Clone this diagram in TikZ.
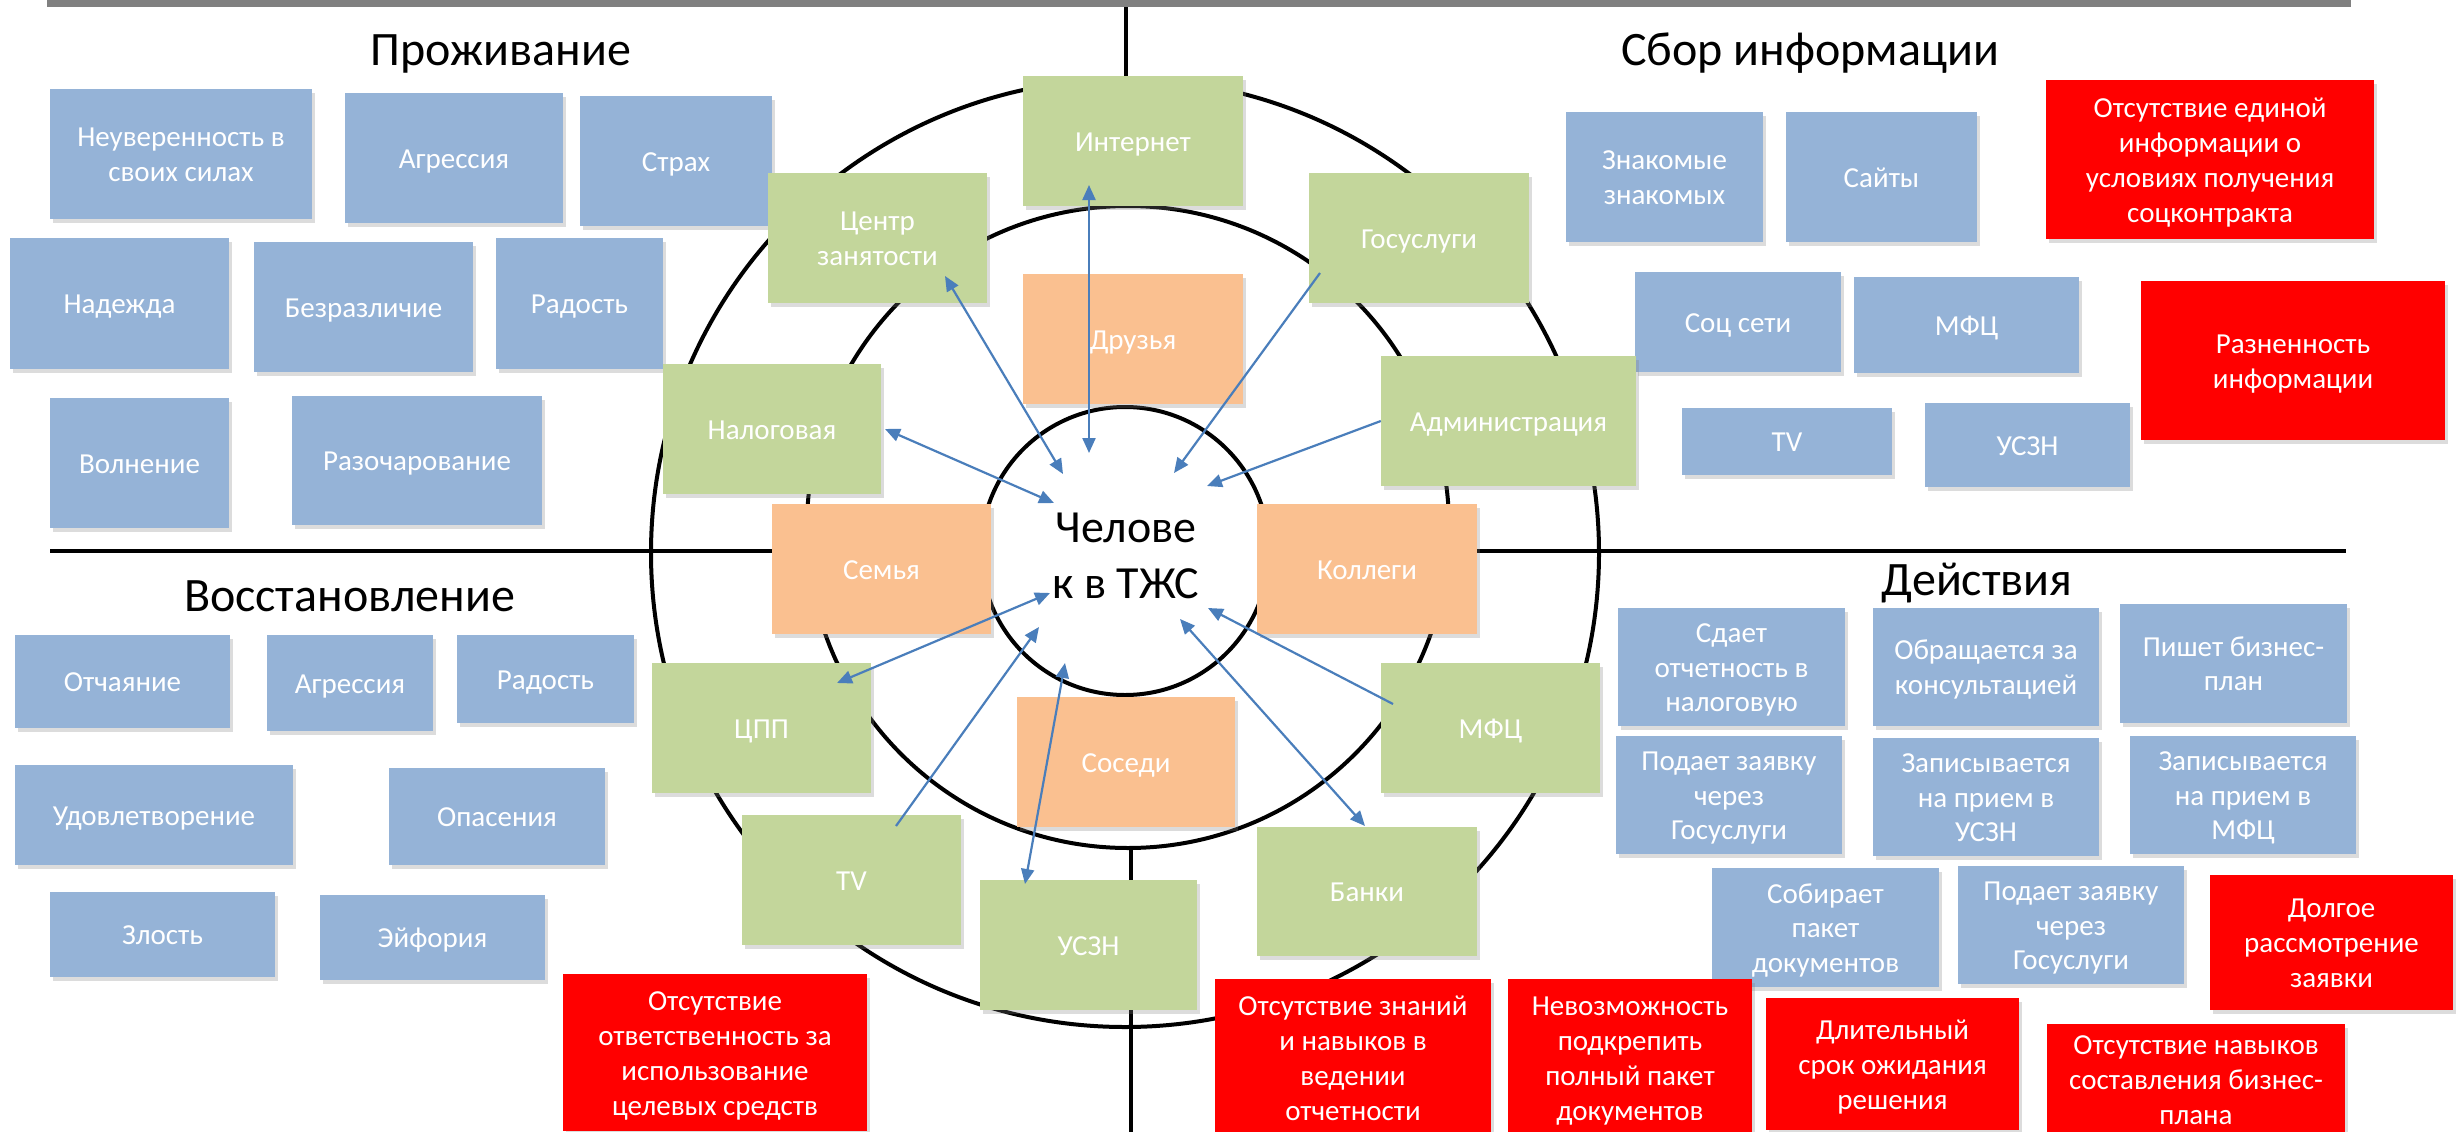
\documentclass[tikz,border=0pt]{standalone}
\usepackage{fontspec}
\setmainfont{Carlito}
\usetikzlibrary{arrows.meta,shadows}
\definecolor{bluebox}{HTML}{95B3D7}
\definecolor{greenbox}{HTML}{C3D69B}
\definecolor{orangebox}{HTML}{FAC090}
\definecolor{redbox}{HTML}{FF0000}
\definecolor{arrowblue}{HTML}{4A7EBB}
\definecolor{bargray}{HTML}{808080}
\newcommand{\Tu}{\rule{0pt}{27.5pt}}
\newcommand{\Bd}{\rule[-7.5pt]{0pt}{7.5pt}}
\begin{document}
\begin{tikzpicture}[x=1pt,y=-1pt,
  box/.style={rectangle, inner sep=2pt, text=white, align=center,
    font=\fontsize{29}{34.5}\selectfont,
    drop shadow={shadow xshift=3pt,shadow yshift=-4pt,opacity=0.28}},
  bbox/.style={box, fill=bluebox},
  gbox/.style={box, fill=greenbox},
  obox/.style={box, fill=orangebox},
  rbox/.style={box, fill=redbox, font=\fontsize{29}{35}\selectfont},
  heading/.style={font=\fontsize{48}{56}\selectfont, anchor=base, inner sep=0pt},
  axisline/.style={line width=4.2pt},
  ring/.style={line width=4pt},
  tip/.tip={Triangle[length=15pt,width=13pt]},
  link/.style={draw=arrowblue, line width=2.2pt, -tip},
  bothlink/.style={draw=arrowblue, line width=2.2pt, tip-tip},
]
\useasboundingbox (0,0) rectangle (2458,1132);
\clip (0,0) rectangle (2458,1132);

% top bar and axes
\fill[bargray] (47,0) rectangle (2351,7.5);
\draw[axisline] (50,551) -- (2346,551);
\draw[axisline] (1126,7.5) -- (1126,300);
\draw[axisline] (1131,800) -- (1131,1132);

% rings
\draw[ring] (1125,553) circle[radius=474pt];
\draw[ring, fill=white] (1128,527) circle[radius=321pt];
\draw[ring, fill=white] (1125,551) circle[radius=144pt];

% headings
\node[heading] (h1) at (501,66) {Проживание};
\node[heading] (h2) at (1810,66) {Сбор информации};
\node[heading] (h3) at (349.5,611) {Восстановление};
\node[heading] (h4) at (1977,595) {Действия};

% Проживание
\node[bbox, minimum width=262pt, minimum height=130pt] (p1) at (181,154) {\Tu Неуверенность в\\своих силах\Bd};
\node[bbox, minimum width=218pt, minimum height=130pt] (p2) at (454,158) {\Tu Агрессия\Bd};
\node[bbox, minimum width=192pt, minimum height=130pt] (p3) at (676,161) {\Tu Страх\Bd};
\node[bbox, minimum width=219pt, minimum height=131pt] (p4) at (119.5,303.5) {\Tu Надежда\Bd};
\node[bbox, minimum width=219pt, minimum height=130pt] (p5) at (363.5,307) {\Tu Безразличие\Bd};
\node[bbox, minimum width=167pt, minimum height=131pt] (p6) at (579.5,303.5) {\Tu Радость\Bd};
\node[bbox, minimum width=179pt, minimum height=130pt] (p7) at (139.5,463) {\Tu Волнение\Bd};
\node[bbox, minimum width=250pt, minimum height=129pt] (p8) at (417,460.5) {\Tu Разочарование\Bd};

% Восстановление
\node[bbox, minimum width=215pt, minimum height=93pt] (v1) at (122.5,681.5) {\Tu Отчаяние\Bd};
\node[bbox, minimum width=166pt, minimum height=96pt] (v2) at (350,683) {\Tu Агрессия\Bd};
\node[bbox, minimum width=177pt, minimum height=88pt] (v3) at (545.5,679) {\Tu Радость\Bd};
\node[bbox, minimum width=278pt, minimum height=100pt] (v4) at (154,815) {\Tu Удовлетворение\Bd};
\node[bbox, minimum width=216pt, minimum height=97pt] (v5) at (497,816.5) {\Tu Опасения\Bd};
\node[bbox, minimum width=225pt, minimum height=85pt] (v6) at (162.5,934.5) {\Tu Злость\Bd};
\node[bbox, minimum width=225pt, minimum height=85pt] (v7) at (432.5,937.5) {\Tu Эйфория\Bd};

% Сбор информации
\node[bbox, minimum width=197pt, minimum height=130pt] (s1) at (1664.5,177) {\Tu Знакомые\\знакомых\Bd};
\node[bbox, minimum width=191pt, minimum height=130pt] (s2) at (1881.5,177) {\Tu Сайты\Bd};
\node[bbox, minimum width=206pt, minimum height=100pt] (s3) at (1738,322) {\Tu Соц сети\Bd};
\node[bbox, minimum width=225pt, minimum height=96pt] (s4) at (1966.5,325) {\Tu МФЦ\Bd};
\node[bbox, minimum width=210pt, minimum height=67pt] (s5) at (1787,441.5) {\Tu TV\Bd};
\node[bbox, minimum width=205pt, minimum height=84pt] (s6) at (2027.5,445) {\Tu УСЗН\Bd};
\node[rbox, minimum width=328pt, minimum height=159pt] (r1) at (2210,159.5) {\Tu Отсутствие единой\\информации о\\условиях получения\\соцконтракта\Bd};
\node[rbox, minimum width=304pt, minimum height=159pt] (r2) at (2293,360.5) {\Tu Разненность\\информации\Bd};

% Действия
\node[bbox, minimum width=227pt, minimum height=118pt] (d1) at (1731.5,667) {\Tu Сдает\\отчетность в\\налоговую\Bd};
\node[bbox, minimum width=226pt, minimum height=118pt] (d2) at (1986,667) {\Tu Обращается за\\консультацией\Bd};
\node[bbox, minimum width=227pt, minimum height=119pt] (d3) at (2233.5,663.5) {\Tu Пишет бизнес-\\план\Bd};
\node[bbox, minimum width=226pt, minimum height=118pt] (d4) at (1729,795) {\Tu Подает заявку\\через\\Госуслуги\Bd};
\node[bbox, minimum width=226pt, minimum height=118pt] (d5) at (1986,797) {\Tu Записывается\\на прием в\\УСЗН\Bd};
\node[bbox, minimum width=226pt, minimum height=118pt] (d6) at (2243,795) {\Tu Записывается\\на прием в\\МФЦ\Bd};
\node[bbox, minimum width=227pt, minimum height=119pt] (d7) at (1825.5,927.5) {\Tu Собирает\\пакет\\документов\Bd};
\node[bbox, minimum width=226pt, minimum height=118pt] (d8) at (2071,925) {\Tu Подает заявку\\через\\Госуслуги\Bd};
\node[rbox, minimum width=243pt, minimum height=135pt] (r3) at (2331.5,942.5) {\Tu Долгое\\рассмотрение\\заявки\Bd};

% bottom red boxes
\node[rbox, minimum width=304pt, minimum height=157pt] (r4) at (715,1052.5) {\Tu Отсутствие\\ответственность за\\использование\\целевых средств\Bd};
\node[rbox, minimum width=276pt, minimum height=157pt] (r5) at (1353,1057.5) {\Tu Отсутствие знаний\\и навыков в\\ведении\\отчетности\Bd};
\node[rbox, minimum width=244pt, minimum height=157pt] (r6) at (1630,1057.5) {\Tu Невозможность\\подкрепить\\полный пакет\\документов\Bd};
\node[rbox, minimum width=253pt, minimum height=132pt] (r7) at (1892.5,1064) {\Tu Длительный\\срок ожидания\\решения\Bd};
\node[rbox, minimum width=298pt, minimum height=111pt] (r8) at (2196,1079.5) {\Tu Отсутствие навыков\\составления бизнес-\\плана\Bd};

% ring boxes
\node[gbox, minimum width=220pt, minimum height=130pt] (inet) at (1133,141) {\Tu Интернет\Bd};
\node[gbox, minimum width=219pt, minimum height=130pt] (czan) at (877.5,238) {\Tu Центр\\занятости\Bd};
\node[gbox, minimum width=220pt, minimum height=130pt] (gos) at (1419,238) {\Tu Госуслуги\Bd};
\node[obox, minimum width=220pt, minimum height=130pt] (friends) at (1133,339) {\Tu Друзья\Bd};
\node[gbox, minimum width=218pt, minimum height=130pt] (nalog) at (772,429) {\Tu Налоговая\Bd};
\node[gbox, minimum width=255pt, minimum height=130pt] (adm) at (1508.5,421) {\Tu Администрация\Bd};
\node[obox, minimum width=219pt, minimum height=130pt] (family) at (881.5,569) {\Tu Семья\Bd};
\node[obox, minimum width=220pt, minimum height=130pt] (coll) at (1367,569) {\Tu Коллеги\Bd};
\node[gbox, minimum width=219pt, minimum height=130pt] (cpp) at (761.5,728) {\Tu ЦПП\Bd};
\node[gbox, minimum width=219pt, minimum height=130pt] (mfc) at (1490.5,728) {\Tu МФЦ\Bd};
\node[obox, minimum width=218pt, minimum height=130pt] (neigh) at (1126,762) {\Tu Соседи\Bd};
\node[gbox, minimum width=219pt, minimum height=130pt] (tv) at (851.5,880) {\Tu TV\Bd};
\node[gbox, minimum width=220pt, minimum height=129pt] (bank) at (1367,891.5) {\Tu Банки\Bd};
\node[gbox, minimum width=217pt, minimum height=130pt] (uszn) at (1088.5,945) {\Tu УСЗН\Bd};

% centre
\node[align=center, inner sep=0pt, font=\fontsize{46}{56}\selectfont] (person) at (1126,556) {Челове\\к в ТЖС};

% arrow end points
\coordinate (aInet) at (1089,185);   \coordinate (bInet) at (1089,453);
\coordinate (aCzan) at (945,276);    \coordinate (bCzan) at (1063,474);
\coordinate (aGos) at (1320,273);    \coordinate (bGos) at (1174,473);
\coordinate (bAdm) at (1207,486);
\coordinate (aNal) at (885,429);     \coordinate (bNal) at (1054,503);
\coordinate (aCpp) at (837,683);     \coordinate (bCpp) at (1050,593);
\coordinate (aTv) at (896,826);      \coordinate (bTv) at (1039,627);
\coordinate (aUszn) at (1025,884);   \coordinate (bUszn) at (1065,663);
\coordinate (aBank) at (1365,826);   \coordinate (bBank) at (1180,619);
\coordinate (aMfc) at (1393,704);    \coordinate (bMfc) at (1208,608);

% arrows
\draw[bothlink] (aInet) -- (bInet);
\draw[bothlink] (aCzan) -- (bCzan);
\draw[link] (aGos) -- (bGos);
\draw[link] (adm.west) -- (bAdm);
\draw[bothlink] (aNal) -- (bNal);
\draw[bothlink] (aCpp) -- (bCpp);
\draw[link] (aTv) -- (bTv);
\draw[bothlink] (aUszn) -- (bUszn);
\draw[bothlink] (aBank) -- (bBank);
\draw[link] (aMfc) -- (bMfc);
\end{tikzpicture}
\end{document}
